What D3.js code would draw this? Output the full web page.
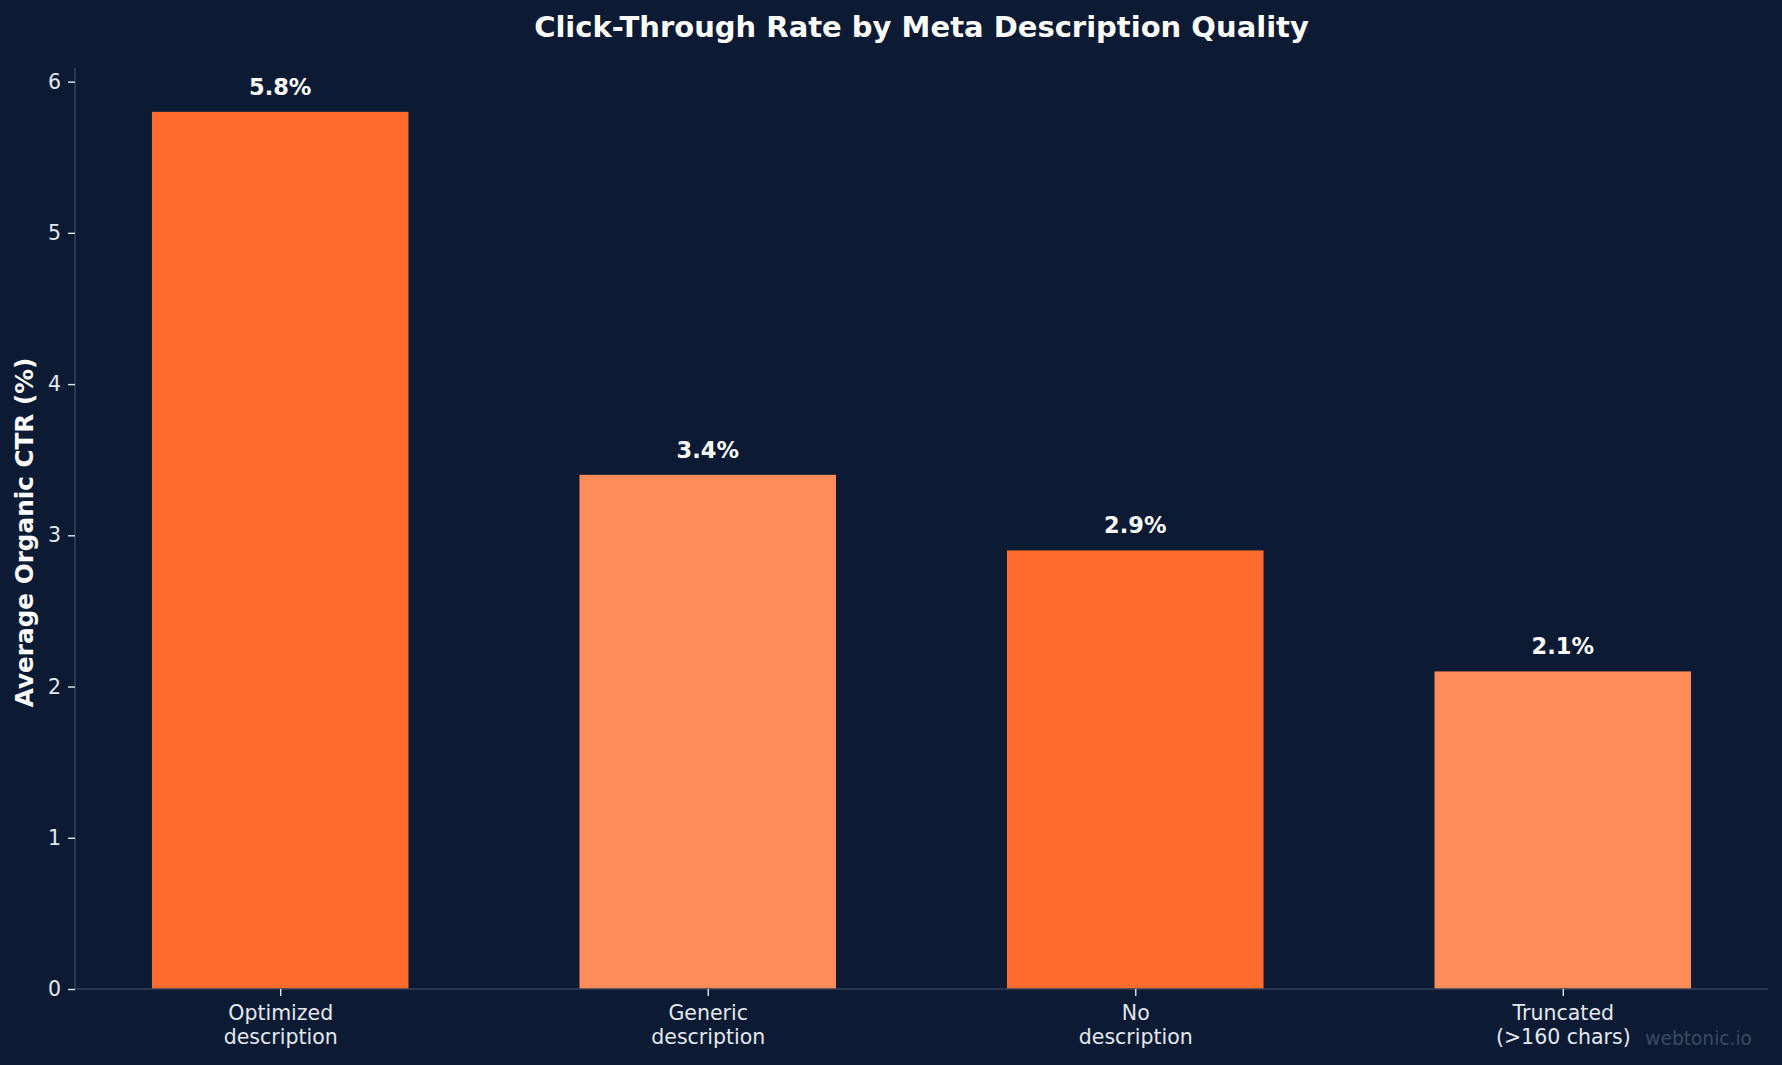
<!DOCTYPE html>
<html>
<head>
<meta charset="utf-8">
<script src="https://cdn.jsdelivr.net/npm/d3@7"></script>
<style>
  body { margin: 0; background: #0c1b33; }
  svg { display: block; font-family: "DejaVu Sans", sans-serif; }
</style>
</head>
<body>
<script>
// chart data
var categories = [["Optimized", "description"], ["Generic", "description"],
                  ["No", "description"], ["Truncated", "(>160 chars)"]];
var ctrValues = [5.8, 3.4, 2.9, 2.1];
var barColors = ["#ff6b2c", "#ff8c5a", "#ff6b2c", "#ff8c5a"];
var yTicks = [0, 1, 2, 3, 4, 5, 6];

const w = 1782;
const h = 1065;
const margin = {left: 75, right: 14, top: 68, bottom: 76};

var svg = d3.select("body")
            .append("svg")
            .attr("width", w)
            .attr("height", h);

svg.append("rect")
   .attr("width", w)
   .attr("height", h)
   .attr("fill", "#0c1b33");

// scales, same limits matplotlib would pick
var xScale = d3.scaleLinear()
               .domain([-0.48, 3.48])
               .range([margin.left, w - margin.right]);
var yScale = d3.scaleLinear()
               .domain([0, 6.09])
               .range([h - margin.bottom, margin.top]);

// bars
svg.selectAll("rect.bar")
   .data(ctrValues)
   .enter()
   .append("rect")
   .attr("class", "bar")
   .attr("x", function(d, i) { return xScale(i - 0.3); })
   .attr("width", xScale(0.6) - xScale(0))
   .attr("y", function(d) { return yScale(d); })
   .attr("height", function(d) { return yScale(0) - yScale(d); })
   .attr("fill", function(d, i) { return barColors[i]; });

// value labels
svg.selectAll("text.value")
   .data(ctrValues)
   .enter()
   .append("text")
   .attr("class", "value")
   .attr("x", function(d, i) { return xScale(i); })
   .attr("y", function(d) { return yScale(d + 0.1) - 2; })
   .attr("text-anchor", "middle")
   .attr("fill", "#ffffff")
   .style("font-size", "22.5px")
   .style("font-weight", "bold")
   .text(function(d) { return d.toFixed(1) + "%"; });

// y axis
var yAxis = svg.append("g")
               .attr("transform", "translate(" + margin.left + ",0)")
               .call(d3.axisLeft(yScale).tickValues(yTicks).tickSize(7).tickPadding(7)
                       .tickFormat(d3.format("d")));

// x axis
var xAxis = svg.append("g")
               .attr("transform", "translate(0," + yScale(0) + ")")
               .call(d3.axisBottom(xScale).tickValues([0, 1, 2, 3]).tickSize(7)
                       .tickFormat(""));

[yAxis, xAxis].forEach(function(ax) {
  ax.select(".domain").attr("stroke", "#334155").attr("stroke-width", 1.6);
  ax.selectAll(".tick line").attr("stroke", "#e2e8f0").attr("stroke-width", 1.4);
  ax.selectAll(".tick text").attr("fill", "#e2e8f0")
    .style("font-size", "20.5px").style("font-family", "DejaVu Sans");
});
yAxis.select(".domain").attr("d", "M0," + yScale(6.09) + "V" + yScale(0));
xAxis.select(".domain").attr("d", "M" + margin.left + ",0H" + (w - margin.right));

// two-line category labels
xAxis.selectAll(".tick").each(function(d, i) {
  var t = d3.select(this).append("text")
            .attr("fill", "#e2e8f0")
            .attr("text-anchor", "middle")
            .style("font-size", "20.5px")
            .style("font-family", "DejaVu Sans");
  categories[i].forEach(function(line, j) {
    t.append("tspan").attr("x", 0).attr("y", 31 + j * 24).text(line);
  });
});

// title
svg.append("text")
   .attr("x", (margin.left + w - margin.right) / 2)
   .attr("y", 37)
   .attr("text-anchor", "middle")
   .attr("fill", "#ffffff")
   .style("font-size", "29px")
   .style("font-weight", "bold")
   .text("Click-Through Rate by Meta Description Quality");

// y axis label
svg.append("text")
   .attr("transform", "translate(33," + ((margin.top + h - margin.bottom) / 2 + 4) + ") rotate(-90)")
   .attr("text-anchor", "middle")
   .attr("fill", "#ffffff")
   .style("font-size", "24.7px")
   .style("font-weight", "bold")
   .text("Average Organic CTR (%)");

// watermark
svg.append("text")
   .attr("x", 1752)
   .attr("y", 1045)
   .attr("text-anchor", "end")
   .attr("fill", "#3b4a63")
   .style("font-size", "18.6px")
   .text("webtonic.io");
</script>
</body>
</html>
